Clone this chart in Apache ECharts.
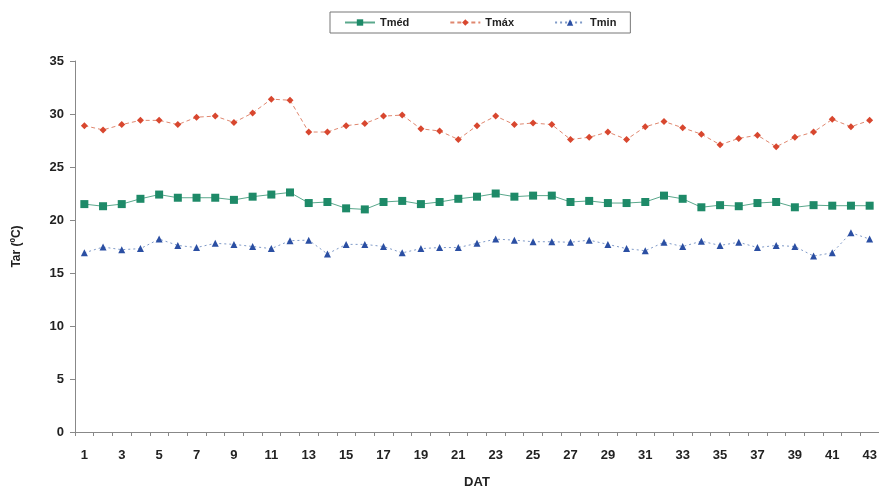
<!DOCTYPE html>
<html>
<head>
<meta charset="utf-8">
<script src="https://cdn.jsdelivr.net/npm/echarts@6/dist/echarts.min.js"></script>
<style>
  html, body { margin: 0; padding: 0; background: #fff; }
  #chart { width: 879px; height: 488px; }
</style>
</head>
<body>
<div id="chart"></div>
<script>
// Days after transplanting (DAT)
const days = Array.from({ length: 43 }, (_, i) => String(i + 1));

// Mean air temperature (°C)
const tMed = [21.5, 21.3, 21.5, 22.0, 22.4, 22.1, 22.1, 22.1, 21.9, 22.2,
              22.4, 22.6, 21.6, 21.7, 21.1, 21.0, 21.7, 21.8, 21.5, 21.7,
              22.0, 22.2, 22.5, 22.2, 22.3, 22.3, 21.7, 21.8, 21.6, 21.6,
              21.7, 22.3, 22.0, 21.2, 21.4, 21.3, 21.6, 21.7, 21.2, 21.4,
              21.35, 21.35, 21.35];

// Maximum air temperature (°C)
const tMax = [28.9, 28.5, 29.0, 29.4, 29.4, 29.0, 29.7, 29.8, 29.2, 30.1,
              31.4, 31.3, 28.3, 28.3, 28.9, 29.1, 29.8, 29.9, 28.6, 28.4,
              27.6, 28.9, 29.8, 29.0, 29.15, 29.0, 27.6, 27.8, 28.3, 27.6,
              28.8, 29.3, 28.7, 28.1, 27.1, 27.7, 28.0, 26.9, 27.8, 28.3,
              29.5, 28.8, 29.4];

// Minimum air temperature (°C)
const tMin = [16.9, 17.45, 17.2, 17.3, 18.2, 17.6, 17.4, 17.8, 17.7, 17.5,
              17.3, 18.05, 18.1, 16.8, 17.7, 17.7, 17.5, 16.9, 17.3, 17.4,
              17.4, 17.8, 18.2, 18.1, 17.95, 17.95, 17.9, 18.1, 17.7, 17.3,
              17.1, 17.9, 17.5, 18.0, 17.6, 17.9, 17.4, 17.6, 17.5, 16.6,
              16.9, 18.8, 18.2];

const seriesNames = ['Tméd', 'Tmáx', 'Tmin'];
const colors = ['#1e8a68', '#d8472f', '#2b4fa3'];

const font = 'Liberation Sans, Arial, sans-serif';
const chart = echarts.init(document.getElementById('chart'), null, { renderer: 'canvas' });

chart.setOption({
  animation: false,
  backgroundColor: '#ffffff',
  color: colors,
  legend: {
    top: 12,
    left: 330,
    itemWidth: 30,
    itemHeight: 8,
    itemGap: 40,
    padding: [5, 14, 5, 14],
    borderColor: '#777',
    borderWidth: 1,
    textStyle: { fontFamily: font, fontWeight: 'bold', fontSize: 11, color: '#222' },
    data: seriesNames
  },
  grid: { left: 75, right: 0, top: 61, bottom: 56, containLabel: false, outerBoundsMode: 'none' },
  xAxis: {
    type: 'category',
    data: days,
    boundaryGap: true,
    name: 'DAT',
    nameLocation: 'middle',
    nameGap: 44,
    nameTextStyle: { fontFamily: font, fontWeight: 'bold', fontSize: 13, color: '#222' },
    axisLine: { lineStyle: { color: '#888', width: 1 } },
    axisTick: { show: true, interval: 0, length: 4, lineStyle: { color: '#888' } },
    axisLabel: {
      interval: 1,
      margin: 17,
      fontFamily: font, fontWeight: 'bold', fontSize: 13, color: '#222'
    },
    splitLine: { show: false }
  },
  yAxis: {
    type: 'value',
    min: 0, max: 35, interval: 5,
    name: 'Tar (ºC)',
    nameLocation: 'middle',
    nameGap: 52,
    nameRotate: 90,
    nameTextStyle: { fontFamily: font, fontWeight: 'bold', fontSize: 12, color: '#222' },
    axisLine: { show: true, lineStyle: { color: '#888', width: 1 } },
    axisTick: { show: true, length: 5, lineStyle: { color: '#888' } },
    axisLabel: { margin: 11, fontFamily: font, fontWeight: 'bold', fontSize: 13, color: '#222' },
    splitLine: { show: false }
  },
  series: [
    {
      name: seriesNames[0], type: 'line', data: tMed,
      symbol: 'rect', symbolSize: 8,
      lineStyle: { width: 1, type: 'solid', color: '#5aa88c' },
      itemStyle: { color: colors[0] }
    },
    {
      name: seriesNames[1], type: 'line', data: tMax,
      symbol: 'diamond', symbolSize: 7,
      lineStyle: { width: 1, type: [4, 3], color: '#e0876f' },
      itemStyle: { color: colors[1] }
    },
    {
      name: seriesNames[2], type: 'line', data: tMin,
      symbol: 'triangle', symbolSize: 7,
      lineStyle: { width: 1, type: [2, 3], color: '#7f9ac8' },
      itemStyle: { color: colors[2] }
    }
  ]
});
</script>
</body>
</html>
